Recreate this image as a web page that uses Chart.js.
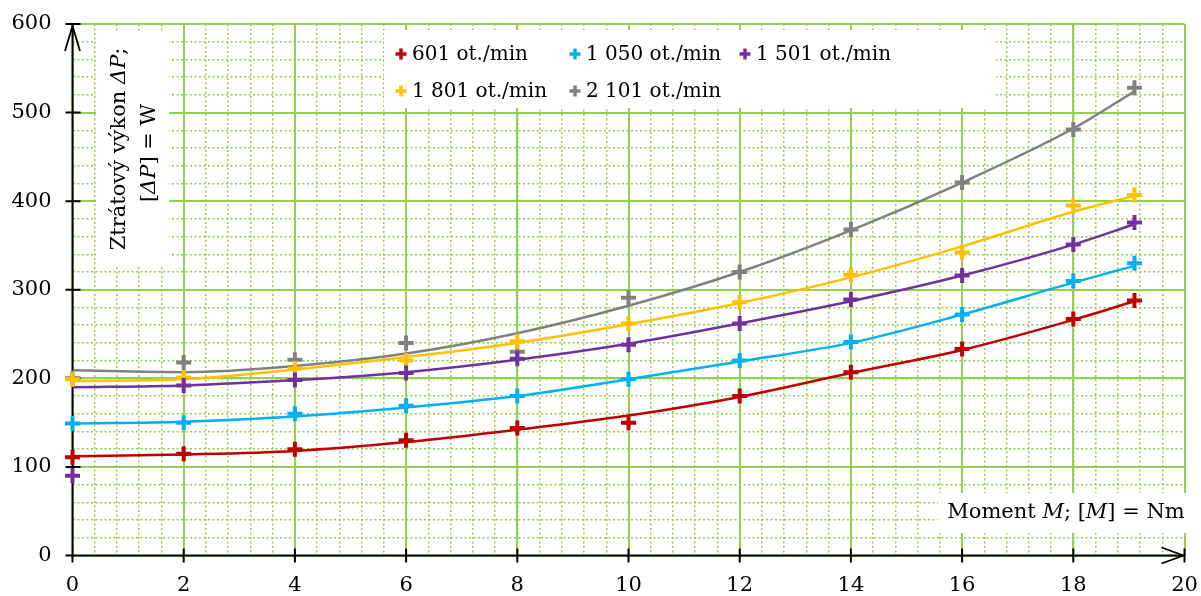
<!DOCTYPE html>
<html>
<head>
<meta charset="utf-8">
<script src="https://cdn.jsdelivr.net/npm/chart.js@4/dist/chart.umd.min.js"></script>
<style>
  html, body { margin: 0; padding: 0; background: #fff; }
  #wrap { width: 1201px; height: 596px; }
</style>
</head>
<body>
<div id="wrap"><canvas id="c" width="1201" height="596"></canvas></div>
<script>
// Torque values (Nm) at which the loss power was measured
const torque = [0, 2, 4, 6, 8, 10, 12, 14, 16, 18, 19.1];

// Series names (shaft speed)
const speedLabels = ['601 ot./min', '1 050 ot./min', '1 501 ot./min', '1 801 ot./min', '2 101 ot./min'];
const speedColors = ['#C00000', '#00B0F0', '#7030A0', '#FFC000', '#808080'];

// Measured loss power ΔP (W)
const meas601  = [111, 115, 120, 130, 144, 150, 180, 207, 233, 267, 288];
const meas1050 = [149, 150, 160, 169, 180, 199, 220, 241, 272, 310, 330];
const meas1501 = [90, 192, 198, 206, 222, 238, 262, 289, 316, 351, 376];
const meas1801 = [199, 201, 211, 220, 242, 262, 286, 317, 342, 395, 407];
const meas2101 = [200, 218, 221, 240, 230, 291, 320, 368, 421, 481, 528];

// Trend curves through the measurements (W)
const trend601  = [112, 114, 118, 128, 142, 158, 179, 206, 232, 266, 287];
const trend1050 = [149, 151, 157, 167, 180, 199, 219, 240, 272, 308, 327];
const trend1501 = [190, 192, 198, 207, 221, 239, 262, 287, 316, 351, 374];
const trend1801 = [197, 199, 210, 224, 240, 261, 285, 314, 349, 388, 406];
const trend2101 = [209, 207, 214, 228, 251, 282, 320, 367, 421, 482, 524];

// Axis ticks
const xTicks = { min: 0, max: 20, step: 2, minorStep: 0.4 };
const yTicks = { min: 0, max: 600, step: 100, minorStep: 20 };

const measured = [meas601, meas1050, meas1501, meas1801, meas2101];
const trends = [trend601, trend1050, trend1501, trend1801, trend2101];

const toPoints = arr => arr.map((v, i) => ({ x: torque[i], y: v }));

const FONT = 'DejaVu Serif';
const GRID_GREEN = '#92D050';

const datasets = [];
measured.forEach((arr, s) => {
  datasets.push({
    label: speedLabels[s],
    data: toPoints(arr),
    showLine: false,
    pointStyle: 'cross',
    pointRadius: 7.5,
    pointHoverRadius: 7.5,
    pointBorderWidth: 4,
    pointHoverBorderWidth: 4,
    borderColor: speedColors[s],
    backgroundColor: speedColors[s],
    clip: false,
    order: 0
  });
});
trends.forEach((arr, s) => {
  datasets.push({
    label: speedLabels[s] + ' (trend)',
    data: toPoints(arr),
    showLine: true,
    pointRadius: 0,
    pointHoverRadius: 0,
    borderWidth: 2.5,
    borderColor: speedColors[s],
    backgroundColor: speedColors[s],
    cubicInterpolationMode: 'monotone',
    fill: false,
    order: 1
  });
});

// Draw a line of text made of runs with different styles, centred on x
function textRuns(ctx, runs, x, y, size) {
  let total = 0;
  runs.forEach(r => {
    ctx.font = (r.italic ? 'italic ' : '') + size + 'px "' + FONT + '"';
    r.w = ctx.measureText(r.t).width;
    total += r.w;
  });
  let cx = x - total / 2;
  runs.forEach(r => {
    ctx.font = (r.italic ? 'italic ' : '') + size + 'px "' + FONT + '"';
    ctx.textAlign = 'left';
    ctx.fillText(r.t, cx, y);
    cx += r.w;
  });
}

function drawCross(ctx, cx, cy, half, width, color) {
  ctx.save();
  ctx.strokeStyle = color;
  ctx.lineWidth = width;
  ctx.beginPath();
  ctx.moveTo(cx - half, cy); ctx.lineTo(cx + half, cy);
  ctx.moveTo(cx, cy - half); ctx.lineTo(cx, cy + half);
  ctx.stroke();
  ctx.restore();
}

const decorPlugin = {
  id: 'decor',
  beforeDatasetsDraw(chart) {
    const ctx = chart.ctx;
    const xs = chart.scales.x, ys = chart.scales.y;
    ctx.save();
    ctx.fillStyle = '#fff';
    // label panels over the grid
    ctx.fillRect(96, 31, 73, 236);       // y title
    ctx.fillRect(384, 30, 612, 78);      // legend
    ctx.fillRect(938, 493, 255, 40);     // x title
    ctx.fillStyle = '#000';
    ctx.textBaseline = 'middle';

    // y axis title (rotated)
    ctx.save();
    ctx.translate(120, 149);
    ctx.rotate(-Math.PI / 2);
    textRuns(ctx, [{ t: 'Ztrátový výkon ' }, { t: 'ΔP', italic: true }, { t: ';' }], 0, 0, 21);
    ctx.restore();
    ctx.save();
    ctx.translate(150, 153);
    ctx.rotate(-Math.PI / 2);
    textRuns(ctx, [{ t: '[' }, { t: 'ΔP', italic: true }, { t: '] = W' }], 0, 0, 21);
    ctx.restore();

    // x axis title
    textRuns(ctx, [{ t: 'Moment ' }, { t: 'M', italic: true }, { t: '; [' }, { t: 'M', italic: true }, { t: '] = Nm' }], 1066, 513, 21);

    // legend, three columns
    const colX = [401, 575, 745];
    const rowY = [54, 91];
    chart.data.datasets.slice(0, speedLabels.length).forEach((ds, i) => {
      const cx = colX[i % 3], cy = rowY[Math.floor(i / 3)];
      drawCross(ctx, cx, cy, 5.5, 3.5, ds.borderColor);
      ctx.fillStyle = '#000';
      ctx.font = '20px "' + FONT + '"';
      ctx.textAlign = 'left';
      ctx.fillText(ds.label, cx + 11, cy + 1);
    });

    // axes with arrows and crossing tick marks
    const x0 = xs.getPixelForValue(xTicks.min), xEnd = xs.getPixelForValue(xTicks.max);
    const y0 = ys.getPixelForValue(yTicks.min), yEnd = ys.getPixelForValue(yTicks.max);
    ctx.strokeStyle = '#000';
    ctx.lineWidth = 2;
    ctx.beginPath();
    ctx.moveTo(x0, y0 + 7); ctx.lineTo(x0, yEnd);
    ctx.moveTo(x0 - 7, y0); ctx.lineTo(xEnd, y0);
    for (let v = yTicks.min; v <= yTicks.max; v += yTicks.step) {
      const p = ys.getPixelForValue(v);
      ctx.moveTo(x0 - 7, p); ctx.lineTo(x0 + 8, p);
    }
    for (let v = xTicks.min; v <= xTicks.max; v += xTicks.step) {
      const p = xs.getPixelForValue(v);
      ctx.moveTo(p, y0 - 7); ctx.lineTo(p, y0 + 7);
    }
    ctx.stroke();
    ctx.lineWidth = 1.8;
    ctx.beginPath();
    ctx.moveTo(x0 - 7.5, yEnd + 27); ctx.lineTo(x0, yEnd + 2); ctx.lineTo(x0 + 7.5, yEnd + 27);
    ctx.moveTo(xEnd - 23, y0 - 8); ctx.lineTo(xEnd - 1, y0); ctx.lineTo(xEnd - 23, y0 + 8);
    ctx.stroke();
    ctx.restore();
  }
};

new Chart(document.getElementById('c'), {
  type: 'scatter',
  data: { datasets },
  plugins: [decorPlugin],
  options: {
    responsive: false,
    animation: false,
    events: [],
    layout: { padding: { top: 24, right: 16.5, left: 0, bottom: 0 } },
    plugins: { legend: { display: false }, tooltip: { enabled: false } },
    scales: {
      x: {
        type: 'linear', position: 'bottom',
        min: xTicks.min, max: xTicks.max,
        ticks: { stepSize: xTicks.step, color: '#000', font: { family: FONT, size: 21 }, padding: 17, maxRotation: 0 },
        grid: { color: GRID_GREEN, lineWidth: 2, drawTicks: false, z: -1 },
        border: { display: false },
        afterFit: s => { s.height = 40.5; s.paddingLeft = 0; s.paddingRight = 0; }
      },
      y: {
        type: 'linear', position: 'left',
        min: yTicks.min, max: yTicks.max,
        ticks: { stepSize: yTicks.step, color: '#000', font: { family: FONT, size: 21 }, padding: 21 },
        grid: { color: GRID_GREEN, lineWidth: 2, drawTicks: false, z: -1 },
        border: { display: false },
        afterFit: s => { s.width = 72.5; s.paddingTop = 0; s.paddingBottom = 0; }
      },
      xMinor: {
        type: 'linear', position: 'bottom',
        min: xTicks.min, max: xTicks.max,
        ticks: { stepSize: xTicks.minorStep, display: false, autoSkip: false },
        grid: { color: GRID_GREEN, lineWidth: 1.5, drawTicks: false, z: -2 },
        border: { display: false, dash: [2, 2.5] },
        afterFit: s => { s.height = 0; s.paddingLeft = 0; s.paddingRight = 0; }
      },
      yMinor: {
        type: 'linear', position: 'left',
        min: yTicks.min, max: yTicks.max,
        ticks: { stepSize: yTicks.minorStep, display: false, autoSkip: false },
        grid: { color: GRID_GREEN, lineWidth: 1.5, drawTicks: false, z: -2 },
        border: { display: false, dash: [2, 2.5] },
        afterFit: s => { s.width = 0; s.paddingTop = 0; s.paddingBottom = 0; }
      }
    }
  }
});
</script>
</body>
</html>
